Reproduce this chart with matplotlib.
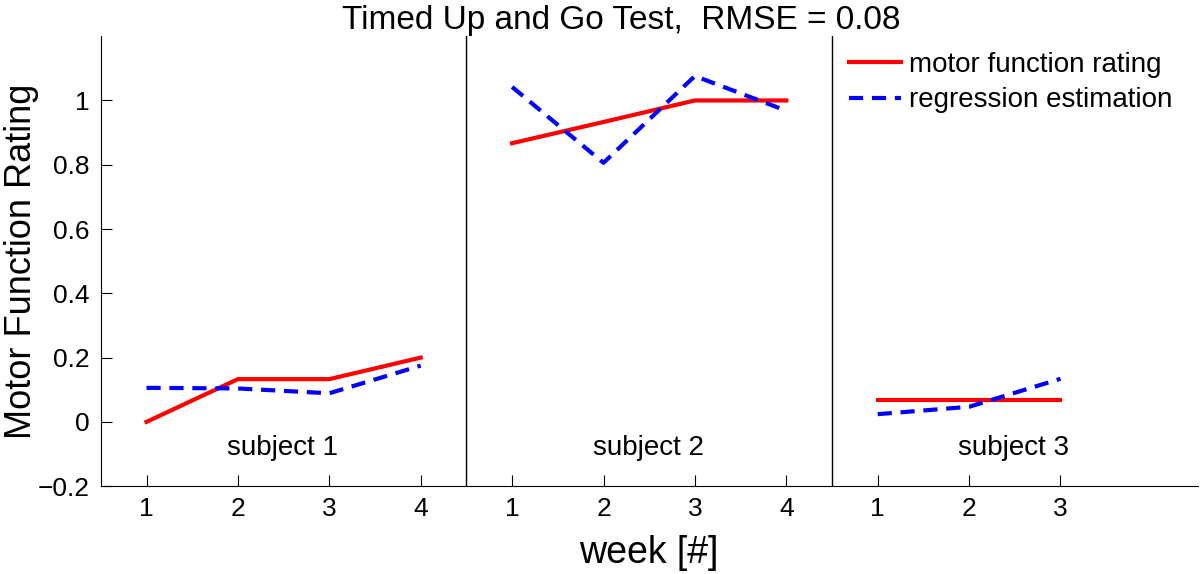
import matplotlib
matplotlib.use("Agg")
import matplotlib.pyplot as plt

plt.rcParams['font.family'] = ['Liberation Sans', 'DejaVu Sans']

# week index per subject, plotted one after another
weeks_s1 = [1, 2, 3, 4]
weeks_s2 = [1, 2, 3, 4]
weeks_s3 = [1, 2, 3]

rating_s1 = [0.0, 0.133, 0.133, 0.2]
rating_s2 = [0.867, 0.933, 1.0, 1.0]
rating_s3 = [0.067, 0.067, 0.067]

estim_s1 = [0.106, 0.104, 0.089, 0.175]
estim_s2 = [1.042, 0.806, 1.076, 0.968]
estim_s3 = [0.024, 0.047, 0.134]

subjects = ['subject 1', 'subject 2', 'subject 3']
rmse = 0.08

fig = plt.figure(figsize=(12, 5.74), dpi=100)
ax = fig.add_axes([0.084, 0.153, 0.914, 0.784])

groups = [(weeks_s1, rating_s1, estim_s1),
          (weeks_s2, rating_s2, estim_s2),
          (weeks_s3, rating_s3, estim_s3)]

offset = 0
ticks = []
ticklabels = []
for k, (w, r, e) in enumerate(groups):
    x = [offset + v for v in w]
    ax.plot(x, r, color='red', lw=3, label='motor function rating' if k == 0 else None)
    ax.plot(x, e, color='blue', lw=3, ls=(0, (3.4, 2.1)),
            label='regression estimation' if k == 0 else None)
    ax.text(offset + 2.49, -0.08, subjects[k],
            ha='center', va='center', fontsize=20)
    ticks += x
    ticklabels += [str(v) for v in w]
    offset += len(w)
    if k < len(groups) - 1:
        ax.axvline(offset + 0.5, color='black', lw=1)

ax.set_xlim(0.5, 12.5)
ax.set_ylim(-0.2, 1.2)
ax.set_xticks(ticks)
ax.set_xticklabels(ticklabels)
ax.set_yticks([-0.2, 0, 0.2, 0.4, 0.6, 0.8, 1])
ax.set_yticklabels(['\u22120.2', '0', '0.2', '0.4', '0.6', '0.8', '1'])
ax.tick_params(direction='in', length=8, labelsize=19, pad=8)
ax.spines['top'].set_visible(False)
ax.spines['right'].set_visible(False)

ax.set_xlabel('week [#]', fontsize=27, labelpad=10)
ax.set_ylabel('Motor Function Rating', fontsize=26)
ax.yaxis.set_label_coords(-0.056, 0.5)
fig.text(0.518, 0.965, 'Timed Up and Go Test,  RMSE = %.2f' % rmse,
         ha='center', va='center', fontsize=24)

ax.legend(loc='upper left', frameon=False, fontsize=20, handlelength=1.87,
          handletextpad=0.3, borderaxespad=0, borderpad=0.4, labelspacing=0.35,
          bbox_to_anchor=(0.672, 0.99))

fig.savefig('out.png', dpi=100)
